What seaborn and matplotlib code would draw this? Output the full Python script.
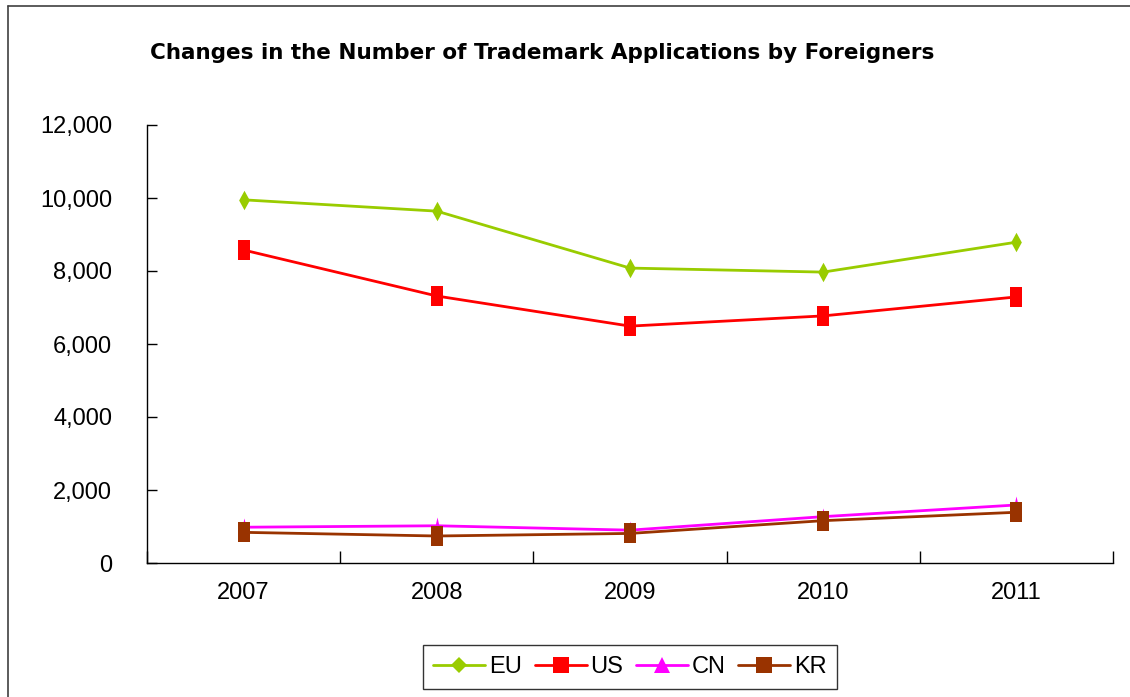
import pandas as pd
import numpy as np
import seaborn as sns
import matplotlib.pyplot as plt
from matplotlib.lines import Line2D

# values
years = ['2007', '2008', '2009', '2010', '2011']
eu = [9950, 9640, 8080, 7970, 8790]
us = [8575, 7315, 6490, 6770, 7290]
cn = [980, 1020, 900, 1270, 1590]
kr = [840, 740, 810, 1160, 1390]

series = ['EU', 'US', 'CN', 'KR']
colors = {'EU': '#99CC00', 'US': '#FF0000', 'CN': '#FF00FF', 'KR': '#993300'}

# tall narrow markers like the stretched original
tall_rect = [(-0.57, -1), (0.57, -1), (0.57, 1), (-0.57, 1), (-0.57, -1)]
tall_diamond = [(0, -1), (0.55, 0), (0, 1), (-0.55, 0), (0, -1)]
tall_tri = [(-0.45, -1), (0.45, -1), (0, 1), (-0.45, -1)]
markers = {'EU': tall_diamond, 'US': tall_rect, 'CN': tall_tri, 'KR': tall_rect}
legend_markers = {'EU': 'D', 'US': 's', 'CN': '^', 'KR': 's'}

df = pd.DataFrame({'pos': np.arange(len(years)), 'EU': eu, 'US': us, 'CN': cn, 'KR': kr})
long = df.melt(id_vars='pos', var_name='region', value_name='count')

sns.set_style('white')
plt.rcParams['font.family'] = ['Liberation Sans', 'DejaVu Sans']
plt.rcParams['text.color'] = 'black'
plt.rcParams['xtick.color'] = 'black'
plt.rcParams['ytick.color'] = 'black'
plt.rcParams['xtick.labelcolor'] = 'black'
plt.rcParams['ytick.labelcolor'] = 'black'

fig = plt.figure(figsize=(11.3, 6.97), dpi=100)
ax = fig.add_axes([147 / 1130, 1 - 563 / 697, 966 / 1130, 438 / 697])

for name in series:
    sub = long[long.region == name]
    sns.lineplot(data=sub, x='pos', y='count', ax=ax, color=colors[name],
                 marker=markers[name], markersize=14 if name != 'CN' else 13,
                 markeredgewidth=0, linewidth=2, legend=False)

ax.set_xlim(-0.5, len(years) - 0.5)
ax.set_ylim(0, 12000)
ax.set_yticks(range(0, 12001, 2000))
ax.set_yticklabels(['{:,}'.format(v) for v in range(0, 12001, 2000)], fontsize=17, color='black')
ax.tick_params(axis='y', direction='in', length=7, width=1, color='black', left=True, pad=25)

# boundary ticks inside, year labels at category centres
ax.set_xticks(np.arange(-0.5, len(years), 1))
ax.set_xticklabels([])
ax.set_xticks(np.arange(len(years)), minor=True)
ax.set_xticklabels(years, minor=True, fontsize=17, color='black')
ax.tick_params(axis='x', which='major', direction='in', length=9, width=1, color='black', bottom=True)
ax.tick_params(axis='x', which='minor', length=0, pad=14)

ax.set_xlabel('')
ax.set_ylabel('')
for s in ['top', 'right']:
    ax.spines[s].set_visible(False)
for s in ['left', 'bottom']:
    ax.spines[s].set_color('black')
    ax.spines[s].set_linewidth(1)

fig.text(150 / 1130, 1 - 53 / 697, 'Changes in the Number of Trademark Applications by Foreigners',
         fontsize=15.5, fontweight='bold', va='center', ha='left', family='DejaVu Sans',
         color='black')

handles = [Line2D([], [], color=colors[n], marker=legend_markers[n], linewidth=2,
                  markersize=11 if n != 'EU' else 8, markeredgewidth=0) for n in series]
leg = ax.legend(handles, series, loc='center', bbox_to_anchor=(630 / 1130, 1 - 667 / 697),
                bbox_transform=fig.transFigure, ncol=4, frameon=True, fancybox=False,
                edgecolor='black', fontsize=17, handlelength=2.2, columnspacing=0.55,
                handletextpad=0.15, borderpad=0.45, borderaxespad=0)
leg.get_frame().set_linewidth(1)
for t in leg.get_texts():
    t.set_color('black')

# partial frame of the original image: top and left edge only
fig.add_artist(Line2D([8 / 1130, 1], [1 - 6 / 697, 1 - 6 / 697], transform=fig.transFigure,
                      color='#404040', linewidth=1.2))
fig.add_artist(Line2D([8 / 1130, 8 / 1130], [0, 1 - 6 / 697], transform=fig.transFigure,
                      color='#404040', linewidth=1.2))

fig.savefig('out.png', dpi=100)
